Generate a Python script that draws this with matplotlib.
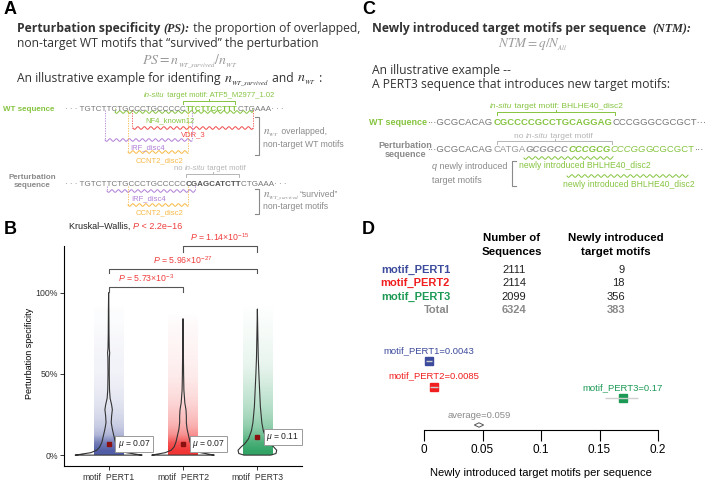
import matplotlib
matplotlib.use('Agg')
import numpy as np
import matplotlib.pyplot as plt
from matplotlib.colors import to_rgba

plt.rcParams['font.family'] = ['Liberation Sans', 'DejaVu Sans']
plt.rcParams['mathtext.fontset'] = 'custom'
plt.rcParams['mathtext.rm'] = 'Liberation Sans'
plt.rcParams['mathtext.it'] = 'Liberation Sans:italic'
plt.rcParams['mathtext.bf'] = 'Liberation Sans:bold'

# ---------------- data, panel B ----------------
groups = ['motif_PERT1', 'motif_PERT2', 'motif_PERT3']
ps_means = [0.07, 0.07, 0.11]
# relative density of jittered points per 5% bin (0-5%, 5-10%, ... 95-100%)
dens_pert1 = [1.0, 0.75, 0.35, 0.22, 0.16, 0.12, 0.09, 0.07, 0.05, 0.04,
              0.03, 0.03, 0.025, 0.02, 0.015, 0.01, 0.005, 0.005, 0.0, 0.0]
dens_pert2 = [1.0, 0.8, 0.45, 0.3, 0.22, 0.17, 0.12, 0.09, 0.07, 0.05,
              0.04, 0.03, 0.025, 0.02, 0.015, 0.01, 0.005, 0.0, 0.0, 0.0]
dens_pert3 = [1.0, 0.85, 0.6, 0.45, 0.35, 0.28, 0.22, 0.18, 0.14, 0.1,
              0.07, 0.05, 0.04, 0.03, 0.02, 0.015, 0.01, 0.005, 0.0, 0.0]
# violin outlines: height (PS) and half width
viol_y1 = [0, 0.005, 0.015, 0.03, 0.05, 0.08, 0.12, 0.16, 0.20, 0.24, 0.28,
           0.31, 0.35, 0.40, 0.50, 0.60, 0.63, 0.66, 0.75, 0.90, 1.0]
viol_w1 = [0.45, 0.38, 0.24, 0.16, 0.12, 0.09, 0.07, 0.05, 0.035, 0.04, 0.05,
           0.04, 0.02, 0.012, 0.008, 0.01, 0.014, 0.008, 0.005, 0.003, 0.0]
viol_y2 = [0, 0.005, 0.015, 0.03, 0.05, 0.08, 0.12, 0.16, 0.20, 0.24, 0.28,
           0.32, 0.40, 0.50, 0.60, 0.70, 0.84]
viol_w2 = [0.42, 0.36, 0.24, 0.16, 0.12, 0.095, 0.075, 0.055, 0.045, 0.045,
           0.04, 0.025, 0.012, 0.008, 0.006, 0.004, 0.0]
viol_y3 = [0, 0.01, 0.03, 0.05, 0.07, 0.10, 0.15, 0.20, 0.30, 0.40, 0.50,
           0.60, 0.75, 0.90]
viol_w3 = [0.18, 0.25, 0.26, 0.22, 0.17, 0.12, 0.08, 0.06, 0.04, 0.03, 0.02,
           0.012, 0.006, 0.0]
pair_groups = [(1, 2), (1, 3), (2, 3)]
pair_mant = ['5.73', '5.96', '1.14']
pair_exp = ['-3', '-27', '-15']

# ---------------- data, panel D ----------------
n_seq = [2111, 2114, 2099]
n_new = [9, 18, 356]
ntm_est = [0.0043, 0.0085, 0.17]
ntm_lo = [0.002, 0.005, 0.155]
ntm_hi = [0.007, 0.012, 0.183]
ntm_avg = 0.059
avg_drawn = 0.047

# ---------------- styles ----------------
group_colors = ['#3d4b9c', '#f01e1e', '#1c9a55']
lime = '#86c440'
purple = '#b07ed6'
orange = '#f8b945'
vdr_red = '#f04a4a'
grey = '#8a8a8a'
lgrey = '#b5b5b5'
pred = '#f03c3c'

W, H = 708, 480
fig = plt.figure(figsize=(W / 100, H / 100), dpi=100)


def px_axes(l, t, r, b):
    return fig.add_axes([l / W, 1 - b / H, (r - l) / W, (b - t) / H])


ov = px_axes(0, 0, W, H)
ov.set_xlim(0, W)
ov.set_ylim(H, 0)
ov.axis('off')
rend = fig.canvas.get_renderer()


def twidth(s, **p):
    if s.startswith('$') and s.endswith('$'):
        t = ov.text(0, 0, s, **p)
        w = t.get_window_extent(rend).width
        t.remove()
        return w
    t1 = ov.text(0, 0, '|' + s + '|', **p)
    t2 = ov.text(0, 0, '||', **p)
    w = t1.get_window_extent(rend).width - t2.get_window_extent(rend).width
    t1.remove()
    t2.remove()
    return w


def put(x, y, parts, size, family='Liberation Sans', ha='left', **base):
    # parts: list of (string, props); y is the visual centre of the line
    props = []
    for s, p in parts:
        q = dict(fontsize=size, family=family, va='baseline')
        q.update(base)
        q.update(p)
        props.append(q)
    widths = [twidth(s, **q) for (s, _), q in zip(parts, props)]
    if ha == 'center':
        x -= sum(widths) / 2
    elif ha == 'right':
        x -= sum(widths)
    yb = y + 0.36 * size * 100 / 72
    for (s, _), q, w in zip(parts, props, widths):
        ov.text(x, yb, s, **q)
        x += w
    return x


def wave(x0, x1, y, color):
    xs = np.linspace(x0, x1, 300)
    ov.plot(xs, y + 1.3 * np.sin(2 * np.pi * (xs - x0) / 6.5), color=color, lw=0.7)


def vdash(x, y0, y1, color):
    ov.plot([x, x], [y0, y1], color=color, lw=0.6, ls=(0, (1.5, 1.5)))


def topbrace(x0, x1, y, color):
    xm = (x0 + x1) / 2
    ov.plot([x0, x0, x1, x1], [y + 3, y, y, y + 3], color=color, lw=0.7)
    ov.plot([xm, xm], [y, y - 2], color=color, lw=0.7)


def sidebracket(x, y0, y1, color, right=True):
    d = -4 if right else 4
    ov.plot([x + d, x, x, x + d], [y0, y0, y1, y1], color=color, lw=0.8)


# panel letters
for lab, x, y in [('A', 4, 10), ('B', 4, 229), ('C', 362, 10), ('D', 362, 229)]:
    ov.text(x, y, lab, fontsize=13, weight='bold', va='center', ha='left')

# ---------------- panel A ----------------
hf = 'Open Sans'
hs = 8.7
serif_bi = dict(family='Liberation Serif', style='italic', weight='bold')
put(17, 28, [('Perturbation specificity ', dict(weight='bold')),
             ('(PS):', serif_bi),
             (' the proportion of overlapped,', {})], hs, hf, color='#333333')
put(17, 43, [('non-target WT motifs that \u201csurvived\u201d the perturbation', {})],
    hs, hf, color='#333333')
ov.text(190, 61, r'$PS = n_{_{WT\_survived}}/n_{_{WT}}$', math_fontfamily='stix',
        fontsize=10, color='#9a9a9a', ha='center', va='center')
put(17, 78, [('An illustrative example for identifing ', {}),
             (r'$n_{_{WT\_survived}}$', dict(math_fontfamily='stix', fontsize=10)),
             (' and ', {}),
             (r'$n_{_{WT}}$', dict(math_fontfamily='stix', fontsize=10)),
             (' :', {})], hs, hf, color='#333333')

sa = 5.8
put(209, 94, [('in-situ', dict(style='italic')), (' target motif: ATF5_M2977_1.02', {})],
    5.5, ha='center', color=lime)
topbrace(183, 235, 101, lime)
put(3, 108, [('WT sequence', dict(weight='bold'))], 5.8, color=lime)
put(65, 108, [('\u00b7 \u00b7 \u00b7 TGTCTTCTGCCCTGCCCCC', {}),
              ('TTCTTCCTTT', dict(weight='bold', color=lime)),
              ('CTGAAA\u00b7 \u00b7 \u00b7', {})], sa, color='#777777')

wt_waves = [(115, 252, 112, lime), (133, 253, 128, vdr_red),
            (105, 192, 140, purple), (128, 188, 152, orange)]
wt_vlines = [(115, 108, 112, lime), (252, 108, 112, lime),
             (132, 110, 128, vdr_red), (253, 110, 128, vdr_red),
             (105, 110, 140, purple), (192, 110, 140, purple),
             (128, 110, 152, orange), (188, 110, 152, orange)]
wt_labels = [('NF4_known12', 170, 120, lime), ('VDR_3', 193, 134, vdr_red),
             ('IRF_disc4', 148, 147, purple), ('CCNT2_disc2', 160, 160, orange)]
for x0, x1, y, c in wt_waves:
    wave(x0, x1, y, c)
for x, y0, y1, c in wt_vlines:
    vdash(x, y0, y1, c)
for s, x, y, c in wt_labels:
    put(x, y, [(s, {})], 5.5, ha='center', color=c)
sidebracket(259, 117, 155, grey)
put(263, 131, [(r'$n_{_{WT}}$', dict(math_fontfamily='stix', fontsize=8)),
               (' overlapped,', {})], 6.2, color=grey)
put(263, 144, [('non-target WT motifs', {})], 6.2, color=grey)

put(32, 176, [('Perturbation', dict(weight='bold'))], 5.8, ha='center', color=grey)
put(32, 184, [('sequence', dict(weight='bold'))], 5.8, ha='center', color=grey)
put(210, 167, [('no ', {}), ('in-situ', dict(style='italic')), (' target motif', {})],
    5.5, ha='center', color=lgrey)
topbrace(186, 239, 174, lgrey)
put(65, 183, [('\u00b7 \u00b7 \u00b7 TGTCTTCTGCCCTGCCCCC', {}),
              ('CGAGCATCTT', dict(weight='bold', color='#555555')),
              ('CTGAAA\u00b7 \u00b7 \u00b7', {})], sa, color='#777777')
wave(107, 195, 191, purple)
wave(128, 188, 205, orange)
for x, y0, y1, c in [(107, 186, 191, purple), (195, 186, 191, purple),
                     (128, 186, 205, orange), (188, 186, 205, orange)]:
    vdash(x, y0, y1, c)
put(149, 198, [('IRF_disc4', {})], 5.5, ha='center', color=purple)
put(160, 212, [('CCNT2_disc2', {})], 5.5, ha='center', color=orange)
sidebracket(259, 189, 214, grey)
put(263, 194, [(r'$n_{_{WT\_survived}}$', dict(math_fontfamily='stix', fontsize=8)),
               ('\u201csurvived\u201d', {})], 6.2, color=grey)
put(263, 206, [('non-target motifs', {})], 6.2, color=grey)

# ---------------- panel C ----------------
put(372, 28, [('Newly introduced target motifs per sequence  ', dict(weight='bold')),
              ('(NTM):', serif_bi)], hs, hf, color='#333333')
ov.text(533, 45, r'$NTM = q/N_{_{All}}$', math_fontfamily='stix',
        fontsize=9.5, color='#9a9a9a', ha='center', va='center')
put(372, 70, [('An illustrative example --', {})], hs, hf, color='#333333')
put(372, 84, [('A PERT3 sequence that introduces new target motifs:', {})],
    hs, hf, color='#333333')

sc = 6.8
put(556, 105, [('in-situ', dict(style='italic')), (' target motif: BHLHE40_disc2', {})],
    6.0, ha='center', color=lime)
topbrace(497, 615, 112, lime)
put(427, 122, [('WT sequence', dict(weight='bold'))], 6.5, ha='right', color=lime)
put(428, 122, [('\u00b7\u00b7\u00b7GCGCACAG', {}),
               ('CGCCCCGCCTGCAGGAG', dict(weight='bold', color=lime)),
               ('CCCGGGCGCGCT\u00b7\u00b7\u00b7', {})], sc, color='#777777')
put(553, 135, [('no ', {}), ('in-situ', dict(style='italic')), (' target motif', {})],
    6.0, ha='center', color=lgrey)
topbrace(497, 612, 141, lgrey)
put(405, 145, [('Perturbation', dict(weight='bold'))], 6.5, ha='center', color=grey)
put(405, 154, [('sequence', dict(weight='bold'))], 6.5, ha='center', color=grey)
put(428, 149, [('\u00b7\u00b7\u00b7GCGCACAG', {}),
               ('CATGA', dict(color='#999999')),
               ('GCGGCC', dict(style='italic', weight='bold', color='#999999')),
               ('CCCGCG', dict(style='italic', weight='bold', color=lime)),
               ('CCCGG', dict(style='italic', color=lime)),
               ('GCGCGCT', dict(color=lime)),
               ('\u00b7\u00b7\u00b7', {})], sc, color='#777777')
wave(524, 613, 158, lime)
wave(567, 688, 176, lime)
put(585, 165, [('newly introduced BHLHE40_disc2', {})], 6.2, ha='center', color=lime)
put(629, 184, [('newly introduced BHLHE40_disc2', {})], 6.2, ha='center', color=lime)
sidebracket(512, 161, 186, grey, right=False)
put(432, 166, [('q', dict(style='italic')), (' newly introduced', {})], 6.5, color=grey)
put(432, 180, [('target motifs', {})], 6.5, color=grey)

# ---------------- panel B ----------------
put(69, 226, [('Kruskal\u2013Wallis, ', {}), ('P', dict(style='italic', color=pred)),
              (' < 2.2e\u221216', dict(color=pred))], 6.5, color='#222222')

axB = px_axes(64, 240, 302, 466)
pos = np.arange(1, len(groups) + 1)
dens_all = [dens_pert1, dens_pert2, dens_pert3]
viols = [(viol_y1, viol_w1), (viol_y2, viol_w2), (viol_y3, viol_w3)]
for i in range(len(groups)):
    d = np.array(dens_all[i])
    img = np.zeros((len(d), 2, 4))
    img[..., :3] = to_rgba(group_colors[i])[:3]
    img[..., 3] = (0.9 * d ** 0.75)[:, None]
    axB.imshow(img, extent=(pos[i] - 0.2, pos[i] + 0.2, 0, 1.0), origin='lower',
               aspect='auto', interpolation='bilinear', zorder=1)
    vy, vw = np.array(viols[i][0]), np.array(viols[i][1])
    axB.fill_betweenx(vy, pos[i] - vw, pos[i] + vw, facecolor='none',
                      edgecolor='#333333', lw=0.8, zorder=2)
axB.plot(pos, ps_means, 's', color='#8b1010', ms=3, zorder=4)
for p, m in zip(pos, ps_means):
    axB.text(p + 0.12, m, r'$\mu$ = %.2f' % m, fontsize=6.2, va='center', ha='left',
             color='#222222', zorder=5,
             bbox=dict(boxstyle='square,pad=0.25', fc='white', ec='#999999', lw=0.7))

bracket_y = [1.037, 1.147, 1.288]
bracket_drop = [0.03, 0.027, 0.035]
for (a, b), yb, dr, mt, ex in zip(pair_groups, bracket_y, bracket_drop, pair_mant, pair_exp):
    axB.plot([a, a, b, b], [yb - dr, yb, yb, yb - dr], color='#555555', lw=0.8, clip_on=False)
    axB.text((a + b) / 2, yb + 0.02, '$P$ = ' + mt + '\u00d710$^{' + ex + '}$', fontsize=6.3,
             color=pred, ha='center', va='bottom')

axB.set_xlim(0.4, 3.6)
axB.set_ylim(-0.067, 1.325)
axB.spines[['top', 'right']].set_visible(False)
axB.spines['left'].set_bounds(-0.067, 1.29)
axB.spines[['left', 'bottom']].set_linewidth(0.8)
axB.set_yticks([0, 0.5, 1.0])
axB.set_yticklabels(['0%', '50%', '100%'])
axB.set_xticks(pos)
axB.set_xticklabels(groups)
axB.tick_params(labelsize=6.3, length=3, width=0.7, pad=1.5, colors='#333333')
axB.set_ylabel('Perturbation specificity', fontsize=6.5, labelpad=1)

# ---------------- panel D ----------------
put(512, 237, [('Number of', dict(weight='bold'))], 8.2, ha='center')
put(512, 251, [('Sequences', dict(weight='bold'))], 8.2, ha='center')
put(616, 237, [('Newly introduced', dict(weight='bold'))], 8.2, ha='center')
put(616, 251, [('target motifs', dict(weight='bold'))], 8.2, ha='center')
row_px = [269, 282, 296]
for g, c, ns, nn, y in zip(groups, group_colors, n_seq, n_new, row_px):
    put(450, y, [(g, dict(weight='bold'))], 8, ha='right', color=c)
    put(514, y, [(str(ns), {})], 8, ha='center', color='#222222')
    put(625, y, [(str(nn), {})], 8, ha='right', color='#222222')
put(450, 309, [('Total', dict(weight='bold'))], 8, ha='right', color=grey)
put(514, 309, [(str(sum(n_seq)), dict(weight='bold'))], 8, ha='center', color=grey)
put(625, 309, [(str(sum(n_new)), dict(weight='bold'))], 8, ha='right', color=grey)

axF = px_axes(424, 340, 658, 430)
axF.set_xlim(0, 0.2)
axF.set_ylim(430, 340)
sq_px = [361, 387, 398]
lab_px = [351, 376, 388]
for g, c, e, lo, hi, y, ly in zip(groups, group_colors, ntm_est, ntm_lo, ntm_hi, sq_px, lab_px):
    axF.plot(e, y, 's', color=c, ms=6, zorder=2)
    axF.hlines(y, lo, hi, color='#cfcfcf', lw=1.0, zorder=3)
    axF.text(e, ly, '%s=%s' % (g, ('%g' % e)), color=c, fontsize=6.8,
             ha='center', va='center')
dh, dw = 2.2, 0.004
axF.fill([avg_drawn - dw, avg_drawn, avg_drawn + dw, avg_drawn],
         [425, 425 - dh, 425, 425 + dh], facecolor='white', edgecolor='#555555', lw=0.7)
axF.text(avg_drawn, 416, 'average=%g' % ntm_avg, color=grey, fontsize=6.8,
         ha='center', va='center')
axF.spines[['top', 'right', 'left']].set_visible(False)
axF.spines['bottom'].set_linewidth(0.8)
axF.set_yticks([])
axF.set_xticks([0, 0.05, 0.1, 0.15, 0.2])
axF.set_xticklabels(['0', '0.05', '0.1', '0.15', '0.2'])
axF.tick_params(axis='x', labelsize=8.5, length=8, width=0.8, pad=2)
axF.set_xlabel('Newly introduced target motifs per sequence', fontsize=8, labelpad=9)

fig.savefig('out.png', dpi=100)
